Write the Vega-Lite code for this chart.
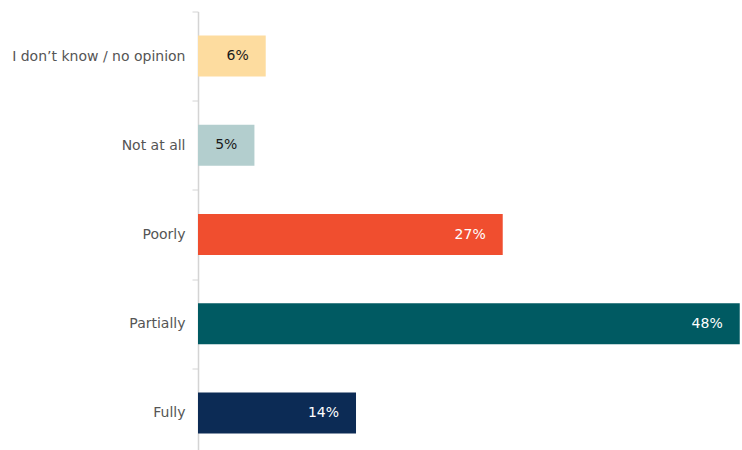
{
  "$schema": "https://vega.github.io/schema/vega-lite/v6.json",
  "autosize": {"type": "none"},
  "padding": {"left": 198, "top": 11.5, "right": 0, "bottom": 0},
  "width": 544,
  "height": 446,
  "background": "white",
  "config": {"view": {"stroke": null}},
  "data": {"values": [
    {"answer": "I don’t know / no opinion", "value": 6},
    {"answer": "Not at all", "value": 5},
    {"answer": "Poorly", "value": 27},
    {"answer": "Partially", "value": 48},
    {"answer": "Fully", "value": 14}
  ]},
  "transform": [{"calculate": "datum.value + '%'", "as": "label"}],
  "encoding": {
    "y": {
      "field": "answer", "type": "nominal",
      "sort": ["I don’t know / no opinion", "Not at all", "Poorly", "Partially", "Fully"],
      "scale": {"paddingInner": 0, "paddingOuter": 0},
      "axis": {
        "title": null, "tickBand": "extent", "domainColor": "#d4d4d4", "tickColor": "#d4d4d4",
        "tickSize": 6, "labelPadding": 7, "labelFont": "DejaVu Sans", "labelFontSize": 14,
        "labelColor": "#555555", "labelLimit": 300, "domainWidth": 1.5
      }
    },
    "x": {"field": "value", "type": "quantitative", "scale": {"domain": [0, 48.2]}, "axis": null}
  },
  "layer": [
    {
      "mark": {"type": "bar", "height": {"band": 0.46}},
      "encoding": {
        "color": {
          "field": "answer", "type": "nominal", "legend": null,
          "scale": {
            "domain": ["I don’t know / no opinion", "Not at all", "Poorly", "Partially", "Fully"],
            "range": ["#FDDC9F", "#B3CECE", "#F04E2F", "#005A62", "#0C2B55"]
          }
        }
      }
    },
    {
      "mark": {"type": "text", "align": "right", "dx": -17, "font": "DejaVu Sans", "fontSize": 14},
      "encoding": {
        "text": {"field": "label", "type": "nominal"},
        "color": {"condition": {"test": "datum.value < 10", "value": "#1a1a1a"}, "value": "#ffffff"}
      }
    }
  ]
}
